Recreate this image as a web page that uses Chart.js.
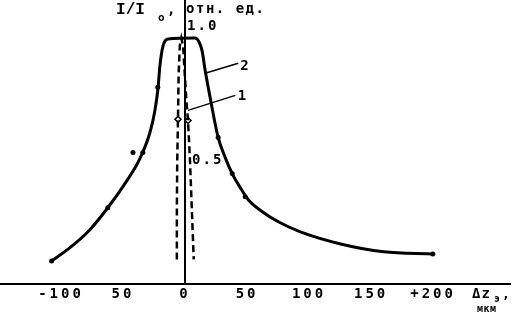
<!DOCTYPE html>
<html>
<head>
<meta charset="utf-8">
<script src="https://cdn.jsdelivr.net/npm/chart.js@4"></script>
<style>
  html, body { margin: 0; padding: 0; background: #fff; }
  canvas { display: block; }
</style>
</head>
<body>
<canvas id="chart" width="516" height="317"></canvas>
<script>
// curve 2 (solid)
const curve2X = [-107.6, -93.0, -76.9, -62.3, -48.5, -36.4, -28.3, -24.3, -21.8, -20.2, -17.8, -13.8,
                 8.1, 11.3, 13.8, 16.2, 20.2, 26.7, 32.4, 38.0, 44.5, 51.0, 62.3, 75.2, 93.0, 125.4, 160.2, 199.8];
const curve2Y = [0.094, 0.147, 0.220, 0.310, 0.408, 0.510, 0.616, 0.706, 0.796, 0.890, 0.967, 0.996,
                 1.0, 0.984, 0.947, 0.869, 0.759, 0.596, 0.514, 0.449, 0.392, 0.343, 0.294, 0.253, 0.212, 0.163, 0.131, 0.122];

// measured points sitting on curve 2
const dots2X = [-107.6, -62.3, -42, -34, -22, 26.7, 38, 48.5, 199.8];
const dots2Y = [0.094, 0.310, 0.535, 0.535, 0.8, 0.596, 0.449, 0.355, 0.122];

// curve 1 (dashed, narrow peak)
const curve1X = [-6.6, -6.6, -6.3, -5.7, -5.2, -4.2, -3, -1.6, 1.0, 2.4, 4.0, 5.5, 7.0];
const curve1Y = [0.1, 0.3, 0.5, 0.67, 0.85, 0.97, 1.0, 0.97, 0.75, 0.665, 0.5, 0.3, 0.1];

const dots1X = [-5.7, 2.4];
const dots1Y = [0.67, 0.665];

const xTicks = [-100, -50, 0, 50, 100, 150, 200];
const xTickLabels = ['-100', '50', '0', '50', '100', '150', '+200'];
const yTicks = [1.0, 0.5];
const yTickLabels = ['1.0', '0.5'];

function pts(xs, ys) {
    return xs.map((x, i) => ({ x: x, y: ys[i] }));
}

const FONT = '"DejaVu Sans Mono", monospace';

const textPlugin = {
    id: 'texts',
    beforeDraw(chart) {
        chart.ctx.letterSpacing = '3px';
    },
    afterDraw(chart) {
        const ctx = chart.ctx;
        const xs = chart.scales.x;
        const ys = chart.scales.y;
        const x0 = xs.getPixelForValue(0);
        ctx.save();
        ctx.fillStyle = '#000';
        ctx.strokeStyle = '#000';
        ctx.textAlign = 'left';
        ctx.textBaseline = 'alphabetic';

        // y values next to the axis
        ctx.font = 'bold 14px ' + FONT;
        ctx.letterSpacing = '2px';
        ctx.fillText(yTickLabels[0], x0 + 2, ys.getPixelForValue(yTicks[0]) - 8);
        ctx.fillText(yTickLabels[1], x0 + 7, ys.getPixelForValue(yTicks[1]) + 3);

        // y title
        ctx.font = 'bold 16px "Liberation Mono", monospace';
        ctx.letterSpacing = '0px';
        ctx.fillText('I/I', x0 - 69, 14);
        ctx.font = 'bold 11px ' + FONT;
        ctx.fillText('o', x0 - 27, 21);
        ctx.font = 'bold 14px ' + FONT;
        ctx.fillText(',', x0 - 18, 14);
        ctx.letterSpacing = '1.5px';
        ctx.fillText('отн. ед.', x0 + 1, 13);

        // x title
        ctx.letterSpacing = '1px';
        ctx.font = 'bold 14px ' + FONT;
        ctx.fillText('Δz', 472, 298);
        ctx.font = 'bold 10px ' + FONT;
        ctx.fillText('э', 494, 302);
        ctx.font = 'bold 13px ' + FONT;
        ctx.fillText(',', 502, 298);
        ctx.font = 'bold 10px ' + FONT;
        ctx.letterSpacing = '0.5px';
        ctx.fillText('мкм', 477, 312);

        // curve numbers with leaders
        ctx.lineWidth = 1.5;
        ctx.beginPath();
        ctx.moveTo(xs.getPixelForValue(16.2), ys.getPixelForValue(0.857));
        ctx.lineTo(xs.getPixelForValue(42.9), ys.getPixelForValue(0.898));
        ctx.moveTo(xs.getPixelForValue(2.4), ys.getPixelForValue(0.706));
        ctx.lineTo(xs.getPixelForValue(40.5), ys.getPixelForValue(0.767));
        ctx.stroke();
        ctx.font = 'bold 14px ' + FONT;
        ctx.letterSpacing = '0px';
        ctx.fillText('2', xs.getPixelForValue(44.5), ys.getPixelForValue(0.87));
        ctx.fillText('1', xs.getPixelForValue(42.5), ys.getPixelForValue(0.75));
        ctx.restore();
    }
};

new Chart(document.getElementById('chart'), {
    type: 'line',
    data: {
        datasets: [
            {
                data: pts(curve2X, curve2Y),
                borderColor: '#000',
                borderWidth: 3,
                pointRadius: 0,
                cubicInterpolationMode: 'monotone',
                fill: false
            },
            {
                data: pts(curve1X, curve1Y),
                borderColor: '#000',
                borderWidth: 2.5,
                borderDash: [7, 4],
                pointRadius: 0,
                tension: 0,
                fill: false
            },
            {
                data: pts(dots2X, dots2Y),
                showLine: false,
                pointRadius: 2.5,
                pointBackgroundColor: '#000',
                pointBorderWidth: 0
            },
            {
                data: pts(dots1X, dots1Y),
                showLine: false,
                pointStyle: 'rectRot',
                pointRadius: 3,
                pointBackgroundColor: '#fff',
                pointBorderColor: '#000',
                pointBorderWidth: 1.5
            }
        ]
    },
    options: {
        responsive: false,
        animation: false,
        devicePixelRatio: 1,
        layout: { autoPadding: false, padding: { top: 0, left: 0, right: 6, bottom: 0 } },
        plugins: {
            legend: { display: false },
            tooltip: { enabled: false }
        },
        scales: {
            x: {
                type: 'linear',
                min: -149.2,
                max: 262,
                grid: { display: false, tickLength: 0 },
                border: { display: true, color: '#000', width: 2 },
                afterBuildTicks: (scale) => {
                    scale.ticks = xTicks.map(v => ({ value: v }));
                },
                afterFit: (scale) => { scale.height = 33; },
                ticks: {
                    color: '#000',
                    padding: 2,
                    maxRotation: 0,
                    autoSkip: false,
                    font: { family: FONT, size: 14, weight: 'bold' },
                    callback: (v) => xTickLabels[xTicks.indexOf(v)]
                }
            },
            y: {
                type: 'linear',
                position: { x: 0 },
                min: 0,
                max: 1.155,
                grid: { display: false },
                border: { display: true, color: '#000', width: 2 },
                ticks: { display: false }
            }
        }
    },
    plugins: [textPlugin]
});
</script>
</body>
</html>
